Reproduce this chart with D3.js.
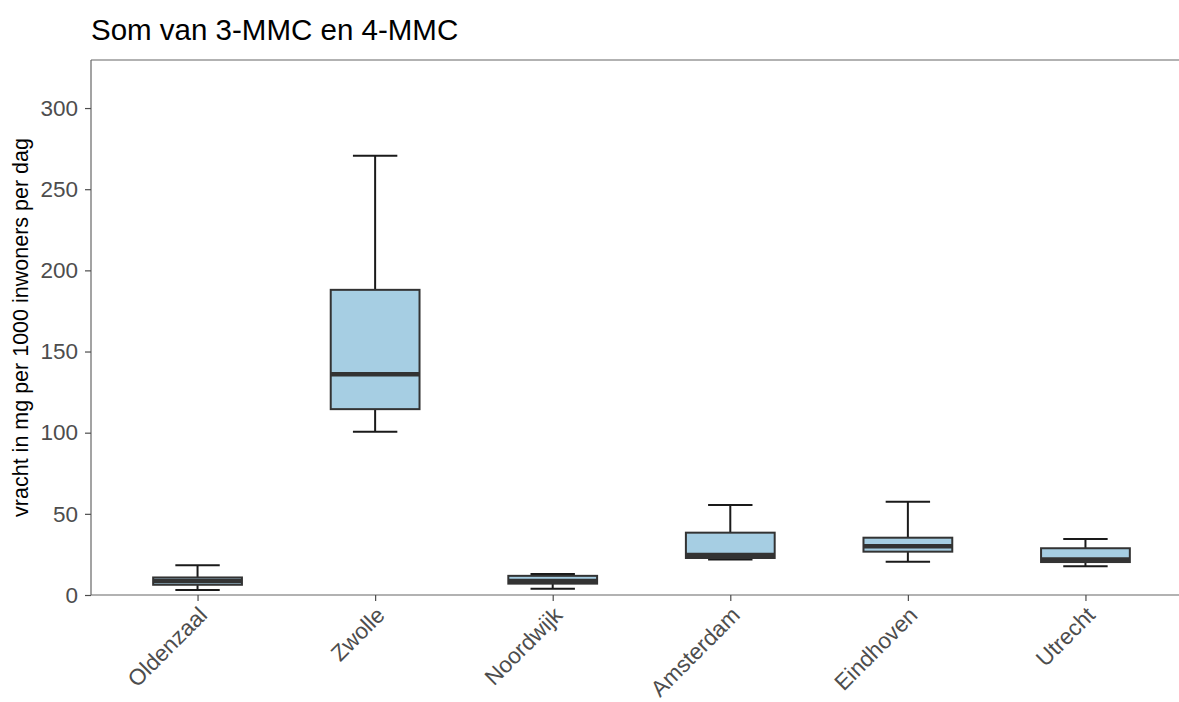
<!DOCTYPE html>
<html>
<head>
<meta charset="utf-8">
<script src="https://cdn.jsdelivr.net/npm/d3@7"></script>
<style>
  body { margin: 0; background: #fff; }
  svg { display: block; font-family: "Liberation Sans", Arial, sans-serif; }
</style>
</head>
<body>
<div id="chart"></div>
<script>
// box statistics per city
var cities = ['Oldenzaal', 'Zwolle', 'Noordwijk', 'Amsterdam', 'Eindhoven', 'Utrecht'];
var minVals = [3.1, 100.6, 3.9, 21.8, 20.5, 17.7];
var q1Vals = [6.3, 114.5, 7.0, 22.8, 26.7, 20.3];
var medianVals = [8.6, 136, 8.6, 24.6, 30, 21.8];
var q3Vals = [10.8, 188, 11.8, 38.4, 35.3, 28.8];
var maxVals = [18.4, 270.6, 12.9, 55.4, 57.5, 34.5];
var yTicks = [0, 50, 100, 150, 200, 250, 300];

var W = 1179, H = 702;
var margin = { top: 60, left: 91, bottom: 107, right: -13 },
    width = W - margin.left - margin.right,
    height = H - margin.top - margin.bottom;

var svg = d3.select('#chart').append('svg')
    .attr('width', W)
    .attr('height', H);

var g = svg.append('g')
    .attr('transform', 'translate(' + margin.left + ',' + margin.top + ')');

var boxes = cities.map((c, i) => ({
    city: c, min: minVals[i], q1: q1Vals[i], med: medianVals[i], q3: q3Vals[i], max: maxVals[i]
}));

var x = d3.scalePoint()
    .domain(cities)
    .range([0, width])
    .padding(0.6);

var y = d3.scaleLinear()
    .domain([0, 329.6])
    .range([height, 0]);

var step = x.step();
var boxW = step * 0.5, capW = step * 0.25;

// whiskers (errorbar style)
var wh = g.selectAll('.whisk')
    .data(boxes)
    .enter().append('g')
    .attr('class', 'whisk')
    .attr('stroke', '#1a1a1a')
    .attr('stroke-width', 2);

wh.append('line')
    .attr('x1', d => x(d.city)).attr('x2', d => x(d.city))
    .attr('y1', d => y(d.max)).attr('y2', d => y(d.q3));
wh.append('line')
    .attr('x1', d => x(d.city)).attr('x2', d => x(d.city))
    .attr('y1', d => y(d.min)).attr('y2', d => y(d.q1));
wh.append('line')
    .attr('x1', d => x(d.city) - capW / 2).attr('x2', d => x(d.city) + capW / 2)
    .attr('y1', d => y(d.max)).attr('y2', d => y(d.max));
wh.append('line')
    .attr('x1', d => x(d.city) - capW / 2).attr('x2', d => x(d.city) + capW / 2)
    .attr('y1', d => y(d.min)).attr('y2', d => y(d.min));

// boxes
g.selectAll('.box')
    .data(boxes)
    .enter().append('rect')
    .attr('class', 'box')
    .attr('x', d => x(d.city) - boxW / 2)
    .attr('width', boxW)
    .attr('y', d => y(d.q3))
    .attr('height', d => y(d.q1) - y(d.q3))
    .attr('fill', '#a6cee3')
    .attr('stroke', '#333333')
    .attr('stroke-width', 2);

// medians
g.selectAll('.median')
    .data(boxes)
    .enter().append('line')
    .attr('class', 'median')
    .attr('x1', d => x(d.city) - boxW / 2)
    .attr('x2', d => x(d.city) + boxW / 2)
    .attr('y1', d => y(d.med))
    .attr('y2', d => y(d.med))
    .attr('stroke', '#333333')
    .attr('stroke-width', 4.5);

// panel top border
g.append('line')
    .attr('x1', 0).attr('x2', width)
    .attr('y1', 0).attr('y2', 0)
    .attr('stroke', '#666').attr('stroke-width', 1.2);

// axes
var yAxis = g.append('g')
    .call(d3.axisLeft(y).tickValues(yTicks).tickSize(6).tickPadding(7));
var xAxis = g.append('g')
    .attr('transform', 'translate(0,' + height + ')')
    .call(d3.axisBottom(x).tickSize(6).tickPadding(4));

[yAxis, xAxis].forEach(a => {
    a.select('.domain').attr('stroke', '#666').attr('stroke-width', 1.2);
    a.selectAll('.tick line').attr('stroke', '#4d4d4d').attr('stroke-width', 1.2);
    a.selectAll('.tick text')
        .attr('fill', '#4d4d4d')
        .style('font-size', '22.5px')
        .style('font-family', '"Liberation Sans", Arial, sans-serif');
});
yAxis.select('.domain').attr('d', 'M0,' + height + 'V0');
xAxis.select('.domain').attr('d', 'M0,0H' + width);

xAxis.selectAll('.tick text')
    .attr('text-anchor', 'end')
    .attr('dy', '0.35em')
    .attr('transform', 'translate(5,16) rotate(-45)')
    .attr('y', 0)
    .attr('x', 0);

// titles
svg.append('text')
    .attr('x', 91)
    .attr('y', 40)
    .attr('fill', '#000')
    .style('font-size', '29.5px')
    .text('Som van 3-MMC en 4-MMC');

svg.append('text')
    .attr('transform', 'translate(28,' + (margin.top + height / 2) + ') rotate(-90)')
    .attr('text-anchor', 'middle')
    .attr('fill', '#000')
    .style('font-size', '21.5px')
    .text('vracht in mg per 1000 inwoners per dag');
</script>
</body>
</html>
